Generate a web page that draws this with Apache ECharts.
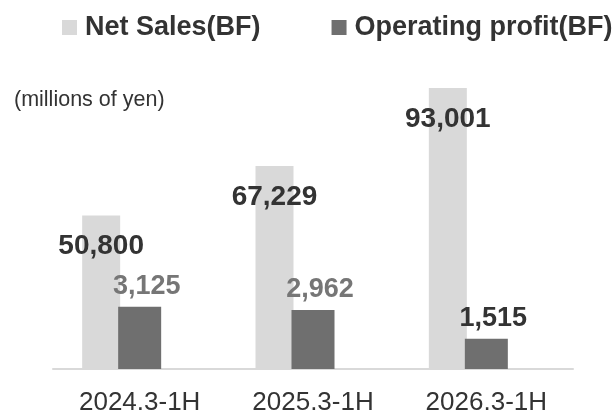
<!DOCTYPE html>
<html>
<head>
<meta charset="utf-8">
<script src="https://cdn.jsdelivr.net/npm/echarts@6/dist/echarts.min.js"></script>
<style>
  html, body { margin: 0; padding: 0; background: #fff; }
  #chart { width: 615px; height: 410px; }
</style>
</head>
<body>
<div id="chart"></div>
<script>
// values
const categories = ['2024.3-1H', '2025.3-1H', '2026.3-1H'];
const netSales = [50800, 67229, 93001];
const operatingProfit = [3125, 2962, 1515];

const chart = echarts.init(document.getElementById('chart'));

const fmt = (p) => p.value.toLocaleString('en-US');
const opLabelColor = (i) => (i === operatingProfit.length - 1 ? '#333333' : '#767676');

chart.setOption({
  animation: false,
  title: {
    text: '(millions of yen)',
    left: 14,
    top: 89,
    padding: 0,
    textStyle: {
      fontFamily: 'Liberation Sans',
      fontWeight: 'normal',
      fontSize: 21.5,
      color: '#333333',
    },
  },
  legend: {
    left: 62,
    top: 14,
    padding: 0,
    itemWidth: 15,
    itemHeight: 15,
    itemGap: 71,
    icon: 'rect',
    data: ['Net Sales(BF)', 'Operating profit(BF)'],
    textStyle: {
      fontFamily: 'Liberation Sans',
      fontWeight: 'bold',
      fontSize: 27,
      color: '#333333',
      padding: [0, 0, 14, 3],
    },
  },
  grid: [
    { left: 53, right: 42, top: 70, bottom: 41, outerBoundsMode: 'none' },
    { left: 14.5, right: 80.5, top: 70, bottom: 41, outerBoundsMode: 'none' },
  ],
  xAxis: [
    {
      type: 'category',
      gridIndex: 0,
      data: categories,
      axisLine: { lineStyle: { color: '#d9d9d9', width: 2 } },
      axisTick: { show: false },
      axisLabel: {
        fontFamily: 'Liberation Sans',
        fontSize: 26,
        color: '#333333',
        margin: 21,
      },
    },
    {
      type: 'category',
      gridIndex: 1,
      data: categories,
      show: false,
    },
  ],
  yAxis: [
    { type: 'value', gridIndex: 0, min: 0, max: 15000, show: false, splitLine: { show: false } },
    { type: 'value', gridIndex: 1, min: 0, max: 99000, show: false, splitLine: { show: false } },
  ],
  series: [
    {
      name: 'Net Sales(BF)',
      type: 'bar',
      xAxisIndex: 1,
      yAxisIndex: 1,
      barWidth: 38,
      data: netSales,
      itemStyle: { color: '#d9d9d9' },
      label: {
        show: true,
        position: 'insideTop',
        distance: 17,
        formatter: fmt,
        fontFamily: 'Liberation Sans',
        fontWeight: 'bold',
        fontSize: 28,
        color: '#333333',
      },
    },
    {
      name: 'Operating profit(BF)',
      type: 'bar',
      xAxisIndex: 0,
      yAxisIndex: 0,
      barWidth: 43,
      data: operatingProfit.map((v, i) => ({
        value: v,
        label: { color: opLabelColor(i) },
      })),
      itemStyle: { color: '#6f6f6f' },
      label: {
        show: true,
        position: 'top',
        distance: 7,
        offset: [7, 0],
        formatter: fmt,
        fontFamily: 'Liberation Sans',
        fontWeight: 'bold',
        fontSize: 27,
      },
    },
  ],
});
</script>
</body>
</html>
